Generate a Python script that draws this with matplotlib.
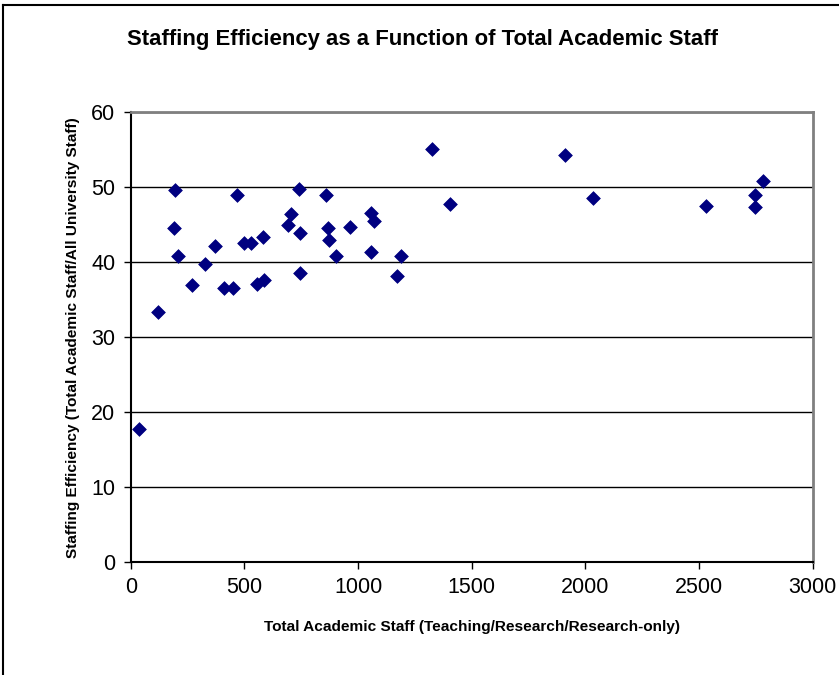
import matplotlib
matplotlib.use("Agg")
import matplotlib.pyplot as plt
from matplotlib.lines import Line2D

plt.rcParams['font.family'] = ['Liberation Sans', 'DejaVu Sans']

total_staff = [119, 196, 190, 210, 268, 327, 371, 412, 449, 466,
               500, 528, 583, 554, 588, 691, 705, 740, 745, 745,
               859, 869, 874, 904, 965, 1056, 1070, 1056, 1170, 1188,
               1327, 1406, 1911, 2032, 2531, 2747, 2748, 2782, 38]
efficiency = [33.3, 49.6, 44.6, 40.8, 37.0, 39.7, 42.2, 36.6, 36.6, 49.0,
              42.5, 42.6, 43.3, 37.1, 37.6, 44.9, 46.4, 49.7, 43.9, 38.5,
              49.0, 44.6, 43.0, 40.8, 44.7, 46.5, 45.5, 41.3, 38.2, 40.8,
              55.1, 47.7, 54.3, 48.5, 47.5, 48.9, 47.4, 50.9, 17.8]
x_ticks = [0, 500, 1000, 1500, 2000, 2500, 3000]
y_ticks = [0, 10, 20, 30, 40, 50, 60]

W, H = 839, 675
fig = plt.figure(figsize=(W / 100, H / 100), dpi=100)
ax = fig.add_axes([130.7 / W, 1 - 562 / H, (812.7 - 130.7) / W, (562 - 112.3) / H])

ax.scatter(total_staff, efficiency, marker='D', s=7.0 ** 2, color='#000080',
           edgecolors='#000080', linewidths=0.5, zorder=3, clip_on=False)

ax.set_xlim(0, 3000)
ax.set_ylim(0, 60)
ax.set_xticks(x_ticks)
ax.set_yticks(y_ticks)
ax.tick_params(axis='both', direction='out', length=5, width=1, color='black',
               labelsize=15.5, pad=6)
ax.yaxis.grid(True, color='black', linewidth=1)
ax.set_axisbelow(True)

for s in ['top', 'right']:
    ax.spines[s].set_color('#808080')
    ax.spines[s].set_linewidth(2)
for s in ['left', 'bottom']:
    ax.spines[s].set_color('black')
    ax.spines[s].set_linewidth(1.5)

ax.set_xlabel('Total Academic Staff (Teaching/Research/Research-only)',
              fontsize=11.1, fontweight='bold', labelpad=16)
ax.set_ylabel('Staffing Efficiency (Total Academic Staff/All University Staff)',
              fontsize=11.1, fontweight='bold', labelpad=8)

fig.text(422 / W, 1 - 40 / H, 'Staffing Efficiency as a Function of Total Academic Staff',
         ha='center', va='center', fontsize=15.9, fontweight='bold')

fig.add_artist(Line2D([3 / W, 3 / W], [0, 1 - 5 / H], color='black', linewidth=1.5,
                      transform=fig.transFigure))
fig.add_artist(Line2D([3 / W, 1], [1 - 5 / H, 1 - 5 / H], color='black', linewidth=1.5,
                      transform=fig.transFigure))

fig.savefig('out.png', dpi=100)
